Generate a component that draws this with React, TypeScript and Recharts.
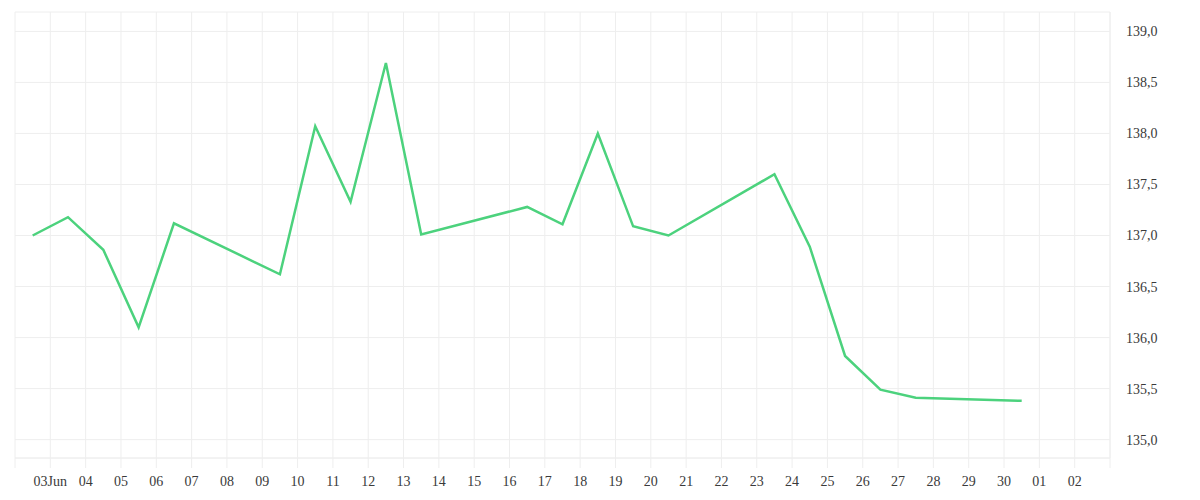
import { LineChart, Line, XAxis, YAxis, CartesianGrid } from 'recharts';

// trading days, June 2025 into July
const dates = [
  '2025-06-02', '2025-06-03', '2025-06-04', '2025-06-05', '2025-06-06',
  '2025-06-09', '2025-06-10', '2025-06-11', '2025-06-12', '2025-06-13',
  '2025-06-16', '2025-06-17', '2025-06-18', '2025-06-19', '2025-06-20',
  '2025-06-23', '2025-06-24', '2025-06-25', '2025-06-26', '2025-06-27',
  '2025-06-30',
];

const prices = [
  137.0, 137.18, 136.86, 136.1, 137.12,
  136.62, 138.07, 137.33, 138.69, 137.01,
  137.28, 137.11, 138.0, 137.09, 137.0,
  137.6, 136.89, 135.82, 135.49, 135.41,
  135.38,
];

// one tick per day from 02 Jun to 03 Jul; the outer two carry no label
const tickLabels = [
  '', '03Jun', '04', '05', '06', '07', '08', '09', '10', '11', '12', '13',
  '14', '15', '16', '17', '18', '19', '20', '21', '22', '23', '24', '25',
  '26', '27', '28', '29', '30', '01', '02', '',
];

const yTicks = [135, 135.5, 136, 136.5, 137, 137.5, 138, 138.5, 139];

const DAY = 24 * 60 * 60 * 1000;
const start = Date.UTC(2025, 5, 2);

const toTime = (d: string) => {
  const [y, m, day] = d.split('-').map(Number);
  return Date.UTC(y, m - 1, day);
};

const data = dates.map((d, i) => ({ t: toTime(d) + DAY / 2, price: prices[i] }));
const xTicks = tickLabels.map((_, i) => start + i * DAY);

const gridColor = '#eeeeee';
const textStyle = { fill: '#3a3a3a', fontSize: 14, fontFamily: '"Liberation Serif", serif' };

export default function App() {
  return (
    <LineChart
      width={1184}
      height={484}
      data={data}
      margin={{ top: 4, right: 22, bottom: 4, left: 7 }}
    >
      <CartesianGrid stroke={gridColor} strokeWidth={1} />
      <XAxis
        dataKey="t"
        type="number"
        scale="time"
        domain={[xTicks[0], xTicks[xTicks.length - 1]]}
        ticks={xTicks}
        interval={0}
        tickFormatter={(v: number) => tickLabels[Math.round((v - start) / DAY)]}
        axisLine={{ stroke: gridColor }}
        tickLine={{ stroke: gridColor }}
        tickSize={10}
        tickMargin={8}
        height={30}
        tick={textStyle}
      />
      <YAxis
        orientation="right"
        domain={[134.82, 139.19]}
        ticks={yTicks}
        allowDataOverflow
        tickFormatter={(v: number) => v.toFixed(1).replace('.', ',')}
        axisLine={{ stroke: gridColor }}
        tickLine={false}
        tickSize={0}
        tickMargin={16}
        width={60}
        tick={{ ...textStyle, textAnchor: 'start' }}
      />
      <Line
        type="linear"
        dataKey="price"
        stroke="#4cd27d"
        strokeWidth={2.5}
        dot={false}
        isAnimationActive={false}
      />
    </LineChart>
  );
}
